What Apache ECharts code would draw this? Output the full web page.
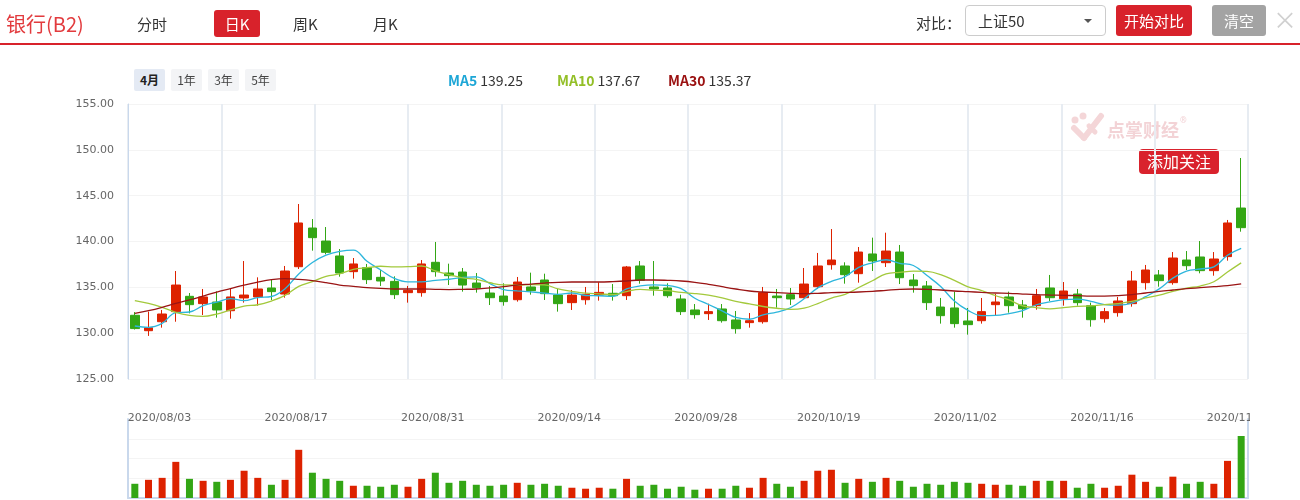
<!DOCTYPE html>
<html><head><meta charset="utf-8">
<script src="https://cdn.jsdelivr.net/npm/echarts@6.0.0/dist/echarts.min.js"></script>
<style>
html,body{margin:0;padding:0;background:#fff;}
#wrap{position:relative;width:1300px;height:500px;overflow:hidden;font-family:"Noto Sans CJK SC","Noto Sans",sans-serif;}
#chart{position:absolute;left:0;top:0;width:1300px;height:500px;}
.abs{position:absolute;white-space:nowrap;}
.tab{font-size:15px;color:#333;line-height:27px;top:10px;}
.btn{top:5px;height:31px;line-height:31px;text-align:center;color:#fff;font-size:15px;border-radius:3px;}
.per{top:69px;height:22px;line-height:22px;width:31px;text-align:center;font-size:12px;color:#444;background:#f3f4f6;border-radius:2px;}
.ma{top:68px;font-size:14px;line-height:24px;color:#333;}
.ma b{font-weight:bold;}
</style></head>
<body><div id="wrap">
<div id="chart"></div>
<div class="abs" style="left:6px;top:10px;font-size:20px;line-height:28px;color:#e23b3e;">银行(B2)</div>
<div class="abs tab" style="left:137px;">分时</div>
<div class="abs tab" style="left:214px;width:46px;height:27px;background:#d8222b;color:#fff;text-align:center;border-radius:3px;">日K</div>
<div class="abs tab" style="left:293px;">周K</div>
<div class="abs tab" style="left:373px;">月K</div>
<div class="abs" style="left:0;top:43px;width:1300px;height:2px;background:#d8222b;"></div>
<div class="abs" style="left:916px;top:8px;font-size:15px;line-height:29px;color:#333;">对比：</div>
<div class="abs" style="left:965px;top:5px;width:139px;height:29px;border:1px solid #ccc;border-radius:4px;background:#fff;">
  <span class="abs" style="left:12px;top:0;font-size:15px;line-height:29px;color:#333;">上证50</span>
  <span class="abs" style="left:118px;top:13px;width:0;height:0;border-left:4px solid transparent;border-right:4px solid transparent;border-top:4px solid #555;"></span>
</div>
<div class="abs btn" style="left:1116px;width:76px;background:#d8222b;">开始对比</div>
<div class="abs btn" style="left:1212px;width:54px;background:#a3a3a3;">清空</div>
<div class="abs" style="left:1273px;top:4px;font-size:24px;line-height:30px;color:#d0d0d0;">×</div>
<div class="abs per" style="left:134px;background:#e4eaf4;font-weight:bold;color:#222;">4月</div>
<div class="abs per" style="left:171px;">1年</div>
<div class="abs per" style="left:208px;">3年</div>
<div class="abs per" style="left:245px;">5年</div>
<div class="abs ma" id="lg5" style="left:448px;"></div>
<div class="abs ma" id="lg10" style="left:557px;"></div>
<div class="abs ma" id="lg30" style="left:668px;"></div>
</div>
<script>
const dates = ['2020/08/03','2020/08/04','2020/08/05','2020/08/06','2020/08/07','2020/08/10','2020/08/11','2020/08/12','2020/08/13','2020/08/14',
'2020/08/17','2020/08/18','2020/08/19','2020/08/20','2020/08/21','2020/08/24','2020/08/25','2020/08/26','2020/08/27','2020/08/28',
'2020/08/31','2020/09/01','2020/09/02','2020/09/03','2020/09/04','2020/09/07','2020/09/08','2020/09/09','2020/09/10','2020/09/11',
'2020/09/14','2020/09/15','2020/09/16','2020/09/17','2020/09/18','2020/09/21','2020/09/22','2020/09/23','2020/09/24','2020/09/25',
'2020/09/28','2020/09/29','2020/09/30','2020/10/09','2020/10/12','2020/10/13','2020/10/14','2020/10/15','2020/10/16',
'2020/10/19','2020/10/20','2020/10/21','2020/10/22','2020/10/23','2020/10/26','2020/10/27','2020/10/28','2020/10/29','2020/10/30',
'2020/11/02','2020/11/03','2020/11/04','2020/11/05','2020/11/06','2020/11/09','2020/11/10','2020/11/11','2020/11/12','2020/11/13',
'2020/11/16','2020/11/17','2020/11/18','2020/11/19','2020/11/20','2020/11/23','2020/11/24','2020/11/25','2020/11/26','2020/11/27',
'2020/11/30','2020/12/01','2020/12/02'];
const labelDates = ['2020/08/03','2020/08/17','2020/08/31','2020/09/14','2020/09/28','2020/10/19','2020/11/02','2020/11/16','2020/11/30'];
const priceTicks = [125,130,135,140,145,150,155];
// [open, close, low, high]
const ohlc = [
[131.95,130.5,130.4,132.3],[130.27,130.6,129.7,132.35],[131.25,132.09,130.6,132.53],[132.35,135.25,131.25,136.78],[134.02,133.11,132.16,134.38],
[133.22,133.95,131.98,134.82],[133.4,132.53,131.69,134.56],[132.45,133.95,131.58,134.82],[133.84,134.16,133.33,137.87],[133.95,134.82,133.0,136.09],
[134.93,134.53,133.62,135.8],[134.27,136.78,133.87,137.33],[137.25,142.02,137.0,144.09],[141.47,140.42,139.0,142.45],[140.05,138.82,138.6,141.58],
[138.42,136.56,136.16,139.18],[136.71,137.55,135.95,138.2],[137.15,135.84,135.36,137.55],[136.09,135.69,135.15,136.89],[135.65,134.2,133.73,136.2],
[134.42,134.67,133.33,135.15],[134.42,137.55,133.98,137.98],[137.73,136.71,136.16,139.95],[136.56,136.27,135.25,137.58],[136.67,135.25,134.53,137.11],
[135.47,134.96,134.42,136.56],[134.38,133.87,133.07,135.15],[134.05,133.44,133.0,135.44],[133.65,135.58,133.44,136.13],[135.04,134.64,134.2,136.6],
[135.8,134.31,133.62,136.49],[134.16,133.22,132.35,134.82],[133.33,134.16,132.53,134.71],[133.65,134.24,133.11,135.04],[134.16,134.45,133.55,135.55],
[134.35,134.09,133.55,135.36],[134.09,137.22,133.62,137.33],[137.33,135.76,135.4,137.87],[135.04,134.82,134.09,137.87],[134.93,134.09,133.87,135.44],
[133.73,132.35,131.98,134.2],[132.53,132.02,131.58,133.18],[132.13,132.35,131.44,133.22],[132.64,131.36,131.15,133.18],[131.44,130.49,129.95,132.42],
[131.15,131.36,130.6,132.2],[131.25,134.42,131.04,135.04],[134.05,133.87,132.78,134.82],[134.2,133.73,133.07,134.93],[133.87,135.36,133.8,137.11],
[135.07,137.33,134.82,138.75],[137.47,137.98,136.93,141.36],[137.33,136.38,135.4,137.73],[136.49,138.85,135.51,139.4],[138.64,137.87,136.78,140.42],
[137.69,138.96,137.22,140.96],[138.85,136.05,135.36,139.62],[135.8,135.18,134.42,136.45],[135.15,133.33,132.53,135.69],[132.85,131.91,131.04,133.84],
[132.75,131.04,130.6,134.53],[131.33,130.93,129.84,132.75],[131.36,132.35,131.04,133.84],[133.11,133.4,131.91,134.27],[133.95,133.0,132.24,134.53],
[133.07,132.67,131.69,133.62],[133.0,134.09,132.56,134.82],[134.93,133.87,133.51,136.35],[133.76,134.6,133.0,135.58],[134.27,133.33,133.0,134.82],
[133.0,131.47,130.71,133.33],[131.58,132.35,131.15,132.75],[132.24,133.51,131.8,133.95],[133.22,135.69,132.89,136.78],[135.51,136.89,134.75,137.44],
[136.35,135.73,135.07,136.89],[135.51,138.2,135.29,138.85],[137.98,137.36,136.89,138.96],[138.31,136.82,136.53,140.05],[136.82,138.09,136.27,138.85],
[138.35,142.02,137.91,142.35],[143.65,141.51,141.07,149.11]];
const ma5 = [130.78,130.64,131.07,132.24,132.31,133.0,133.39,133.76,133.54,133.88,
134.0,134.85,136.46,137.71,138.51,138.92,139.07,137.84,136.89,135.97,
135.59,135.59,135.76,135.88,136.09,136.15,135.41,134.76,134.62,134.5,
134.37,134.24,134.38,134.11,134.08,134.03,134.83,135.15,135.27,135.2,
134.85,133.81,133.13,132.43,131.71,131.52,132.0,132.3,132.77,133.75,
134.94,135.65,136.16,137.18,137.68,138.01,137.62,137.38,136.28,135.09,
133.5,132.48,131.91,131.93,132.14,132.47,133.1,133.41,133.65,133.71,
133.47,133.12,133.05,133.27,133.98,134.83,136.0,136.77,137.0,137.24,
138.5,139.25];
const ma10 = [133.55,133.25,132.82,132.27,131.95,131.84,132.09,132.53,132.96,133.1,
133.5,134.12,135.11,135.63,136.2,136.46,136.96,137.15,137.3,137.24,
137.26,137.33,136.8,136.39,136.03,135.87,135.5,135.26,135.25,135.3,
135.26,134.83,134.57,134.37,134.29,134.2,134.54,134.77,134.69,134.64,
134.44,134.32,134.14,133.85,133.46,133.19,132.91,132.72,132.6,132.73,
133.23,133.83,134.23,134.98,135.72,136.48,136.64,136.77,136.73,136.39,
135.76,135.05,134.65,134.11,133.62,132.99,132.79,132.66,132.79,132.93,
132.97,133.11,133.23,133.46,133.85,134.15,134.56,134.91,135.14,135.61,
136.67,137.67];
const ma30 = [132.16,132.45,132.82,133.25,133.62,134.05,134.49,134.85,135.25,135.58,
135.84,135.95,135.87,135.73,135.51,135.25,135.11,134.96,134.89,134.82,
134.82,134.82,134.78,134.75,134.78,134.82,134.93,135.07,135.25,135.36,
135.47,135.55,135.58,135.58,135.58,135.62,135.69,135.8,135.8,135.76,
135.69,135.55,135.33,135.07,134.82,134.6,134.49,134.42,134.35,134.31,
134.35,134.42,134.45,134.49,134.56,134.67,134.78,134.82,134.78,134.71,
134.6,134.53,134.45,134.38,134.35,134.27,134.2,134.16,134.13,134.09,
134.05,134.05,134.09,134.2,134.38,134.56,134.71,134.85,134.96,135.07,
135.18,135.37];
const volumes = [72,92,102,183,97,87,82,92,138,102,
67,92,244,128,97,87,62,62,57,67,
57,97,128,77,87,67,62,67,77,67,
72,62,52,47,52,47,97,62,67,47,
57,42,47,47,62,52,102,72,57,87,
138,143,77,97,82,102,87,57,72,67,
82,77,72,67,67,62,87,87,87,52,
72,52,62,118,82,57,108,72,82,72,
188,314];

const UP = '#dd2200', DOWN = '#33a615';
const C5 = '#2db6dc', C10 = '#a3c93c', C30 = '#9a1414';
function lg(id, name, col, arr){
  document.getElementById(id).innerHTML = '<b style="color:'+col+'">'+name+'</b> '+arr[arr.length-1].toFixed(2);
}
lg('lg5','MA5','#1da6d6',ma5); lg('lg10','MA10','#93bf27',ma10); lg('lg30','MA30','#9a1010',ma30);

const chart = echarts.init(document.getElementById('chart'), null, {renderer:'canvas'});
const axisBlue = '#c9d8ec';
const faint = '#f4f4f4';
const option = {
  animation:false,
  grid:[{left:128, top:104, width:1120, height:275},{left:128, top:419, width:1120, height:79}],
  xAxis:[
    {type:'category', gridIndex:0, data:dates, boundaryGap:true,
     axisLine:{show:false}, axisTick:{show:false}, splitLine:{show:false},
     axisLabel:{show:true, margin:34, align:'left', padding:[0,0,0,-7], color:'#666', fontSize:11, fontFamily:'DejaVu Sans',
       interval:(i,v)=>labelDates.indexOf(v)>=0}},
    {type:'category', gridIndex:1, data:dates, boundaryGap:true,
     axisLine:{show:true, lineStyle:{color:axisBlue, width:2}}, axisTick:{show:false}, axisLabel:{show:false}, splitLine:{show:false}},
    {type:'value', gridIndex:0, min:0, max:12, interval:1, axisLine:{show:false}, axisTick:{show:false}, axisLabel:{show:false},
     splitLine:{show:true, lineStyle:{color:'#e7ecf2', width:2}}}
  ],
  yAxis:[
    {type:'value', gridIndex:0, min:priceTicks[0], max:priceTicks[priceTicks.length-1], interval:5,
     axisLine:{show:true, lineStyle:{color:axisBlue, width:1}}, axisTick:{show:false},
     axisLabel:{color:'#666', fontSize:11, fontFamily:'DejaVu Sans', margin:14, formatter:v=>v.toFixed(2)},
     splitLine:{show:true, lineStyle:{color:faint}}},
    {type:'value', gridIndex:1, min:0, max:400, interval:100,
     axisLine:{show:true, lineStyle:{color:axisBlue, width:2}}, axisTick:{show:false}, axisLabel:{show:false},
     splitLine:{show:true, lineStyle:{color:faint}}},
    {type:'value', gridIndex:1, position:'right', min:0, max:400, interval:100,
     axisLine:{show:true, lineStyle:{color:axisBlue, width:2}}, axisTick:{show:false}, axisLabel:{show:false}, splitLine:{show:false}}
  ],
  series:[
    {type:'candlestick', name:'K', xAxisIndex:0, yAxisIndex:0, data:ohlc, barWidth:9,
     itemStyle:{color:UP, color0:DOWN, borderColor:UP, borderColor0:DOWN, borderWidth:1}},
    {type:'line', name:'MA5', xAxisIndex:0, yAxisIndex:0, data:ma5, smooth:0.4, symbol:'none', lineStyle:{color:C5, width:1.3}},
    {type:'line', name:'MA10', xAxisIndex:0, yAxisIndex:0, data:ma10, smooth:0.4, symbol:'none', lineStyle:{color:C10, width:1.3}},
    {type:'line', name:'MA30', xAxisIndex:0, yAxisIndex:0, data:ma30, smooth:0.4, symbol:'none', lineStyle:{color:C30, width:1.3}},
    {type:'bar', name:'VOL', xAxisIndex:1, yAxisIndex:1, data:volumes, barWidth:7,
     itemStyle:{color:p=>{const d=ohlc[p.dataIndex]; return d[1]>=d[0]?UP:DOWN;}}}
  ],
  graphic:[
    {type:'rect', x:1250, y:404, shape:{width:50, height:24}, style:{fill:'#fff'}, z:100},
    {type:'group', x:1071, y:112, z:5, silent:true, children:[
      {type:'circle', shape:{cx:4, cy:8, r:3.5}, style:{fill:'#f4d6d8'}},
      {type:'circle', shape:{cx:12, cy:4, r:3.5}, style:{fill:'#f4d6d8'}},
      {type:'line', shape:{x1:3, y1:16, x2:13, y2:26}, style:{stroke:'#f4d6d8', lineWidth:6, lineCap:'round'}},
      {type:'line', shape:{x1:13, y1:26, x2:30, y2:4}, style:{stroke:'#f4d6d8', lineWidth:6, lineCap:'round'}},
      {type:'line', shape:{x1:18, y1:14, x2:24, y2:20}, style:{stroke:'#f4d6d8', lineWidth:5, lineCap:'round'}},
      {type:'text', x:36, y:9, style:{text:'点掌财经', font:'bold 18px "Noto Sans CJK SC"', fill:'#f3d3d6'}},
      {type:'text', x:109, y:5, style:{text:'®', font:'8px "Noto Sans"', fill:'#f3d3d6'}}
    ]},
    {type:'group', x:1139, y:149, z:20, children:[
      {type:'rect', shape:{x:0, y:0, width:80, height:25, r:4}, style:{fill:'#d9222d'}},
      {type:'text', x:40, y:13, style:{text:'添加关注', font:'16px "Noto Sans CJK SC"', fill:'#fff', align:'center', verticalAlign:'middle'}}
    ]}
  ]
};
chart.setOption(option);
</script>
</body></html>
